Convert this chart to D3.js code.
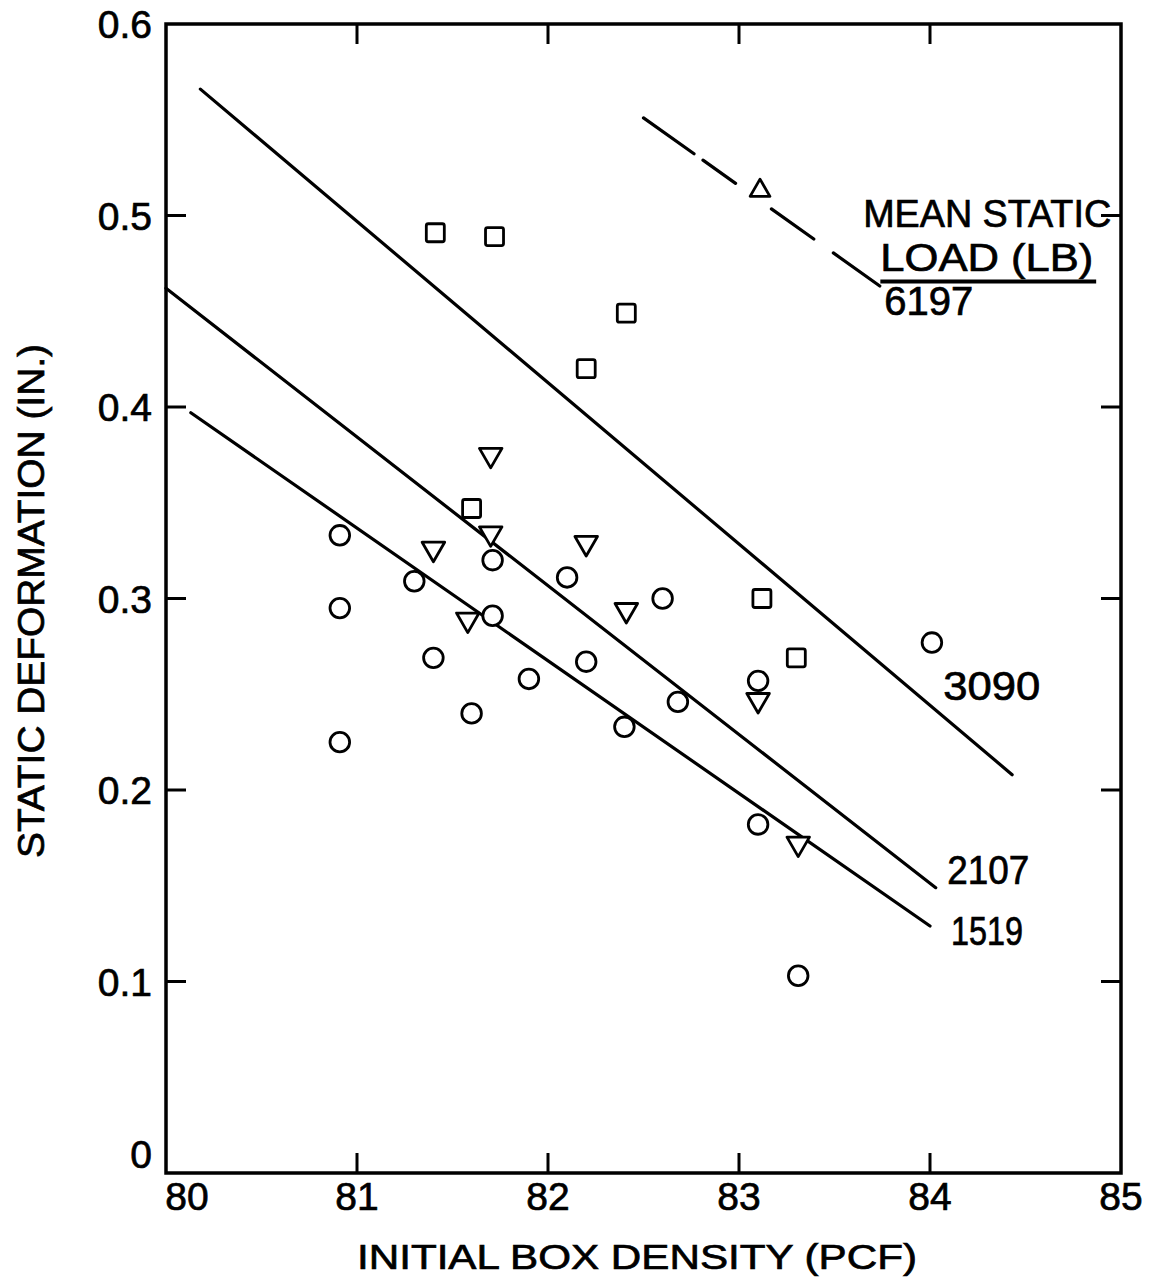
<!DOCTYPE html>
<html lang="en">
<head>
<meta charset="UTF-8" />
<title>Static deformation vs initial box density</title>
<script src="https://d3js.org/d3.v7.min.js"></script>
<style>
  body { margin: 0; background: #fff; }
  svg text { font-family: "Liberation Sans", Arial, sans-serif; fill: #000; stroke: #000; stroke-width: 0.7px; }
</style>
</head>
<body>
<div id="chart"></div>
<script>
  // axis ticks
  const xTicks = [80, 81, 82, 83, 84, 85];
  const yTicks = [0, 0.1, 0.2, 0.3, 0.4, 0.5, 0.6];
  const yTickLabels = ['0', '0.1', '0.2', '0.3', '0.4', '0.5', '0.6'];

  // observed points, grouped by symbol
  const squareX = [81.41, 81.72, 82.41, 82.20, 81.60, 83.12, 83.30];
  const squareY = [0.491, 0.489, 0.449, 0.420, 0.347, 0.300, 0.269];

  const triDownX = [81.70, 81.40, 81.70, 82.20, 82.41, 81.58, 83.10, 83.31];
  const triDownY = [0.375, 0.326, 0.334, 0.329, 0.294, 0.289, 0.247, 0.172];

  const triUpX = [83.11];
  const triUpY = [0.513];

  const circleX = [80.91, 80.91, 80.91, 81.30, 81.40, 81.60, 81.71, 81.71, 81.90,
                   82.10, 82.20, 82.40, 82.60, 82.68, 83.10, 83.10, 83.31, 84.01];
  const circleY = [0.333, 0.295, 0.225, 0.309, 0.269, 0.240, 0.320, 0.291, 0.258,
                   0.311, 0.267, 0.233, 0.300, 0.246, 0.257, 0.182, 0.103, 0.277];

  // fitted lines per mean static load
  const loads  = ['1519', '2107', '3090', '6197'];
  const lineX0 = [80.13, 80.00, 80.18, 82.50];
  const lineY0 = [0.397, 0.462, 0.566, 0.551];
  const lineX1 = [84.00, 84.03, 84.43, 83.74];
  const lineY1 = [0.129, 0.149, 0.208, 0.463];
  const dashed = [false, false, false, true];
  // where each load label sits (data units, baseline-left)
  const labelX = [84.11, 84.09, 84.07, 83.76];
  const labelY = [0.119, 0.151, 0.247, 0.448];

  const W = 1154, H = 1281;
  const margin = {top: 24, right: 33, bottom: 108, left: 166};
  const width = W - margin.left - margin.right;
  const height = H - margin.top - margin.bottom;

  const x = d3.scaleLinear().domain([80, 85]).range([0, width]);
  const y = d3.scaleLinear().domain([0, 0.6]).range([height, 0]);

  const svg = d3.select('#chart').append('svg')
    .attr('width', W).attr('height', H)
    .style('background', '#fff');
  const g = svg.append('g').attr('transform', `translate(${margin.left},${margin.top})`);

  // frame
  g.append('rect').attr('width', width).attr('height', height)
    .attr('fill', 'none').attr('stroke', '#000').attr('stroke-width', 3.5);

  const tickLen = 20;
  const inner = xTicks.slice(1, -1);
  const innerY = yTicks.slice(1, -1);

  // inward ticks, bottom and top
  g.selectAll('.xtb').data(inner).join('line')
    .attr('x1', d => x(d)).attr('x2', d => x(d))
    .attr('y1', height).attr('y2', height - tickLen)
    .attr('stroke', '#000').attr('stroke-width', 3);
  g.selectAll('.xtt').data(inner).join('line')
    .attr('x1', d => x(d)).attr('x2', d => x(d))
    .attr('y1', 0).attr('y2', tickLen)
    .attr('stroke', '#000').attr('stroke-width', 3);
  // inward ticks, left and right
  g.selectAll('.ytl').data(innerY).join('line')
    .attr('x1', 0).attr('x2', tickLen)
    .attr('y1', d => y(d)).attr('y2', d => y(d))
    .attr('stroke', '#000').attr('stroke-width', 3);
  g.selectAll('.ytr').data(innerY).join('line')
    .attr('x1', width).attr('x2', width - tickLen)
    .attr('y1', d => y(d)).attr('y2', d => y(d))
    .attr('stroke', '#000').attr('stroke-width', 3);

  // tick labels
  g.selectAll('.xl').data(xTicks).join('text')
    .attr('x', d => x(d) + (d === 80 ? 21 : 0))
    .attr('y', height + 37)
    .attr('text-anchor', 'middle')
    .attr('font-size', 39)
    .text(d => d);
  g.selectAll('.yl').data(yTicks).join('text')
    .attr('x', -14)
    .attr('y', (d, i) => y(d) + (i === 0 ? -5 : 14))
    .attr('text-anchor', 'end')
    .attr('font-size', 39)
    .text((d, i) => yTickLabels[i]);

  // axis titles
  svg.append('text')
    .attr('x', 637).attr('y', 1269)
    .attr('text-anchor', 'middle')
    .attr('font-size', 35)
    .attr('textLength', 560).attr('lengthAdjust', 'spacingAndGlyphs')
    .text('INITIAL BOX DENSITY (PCF)');
  svg.append('text')
    .attr('transform', 'translate(44,601) rotate(-90)')
    .attr('text-anchor', 'middle')
    .attr('font-size', 36)
    .attr('textLength', 514).attr('lengthAdjust', 'spacingAndGlyphs')
    .text('STATIC DEFORMATION (IN.)');

  // fitted lines
  const lines = loads.map((l, i) => ({load: l, x0: lineX0[i], y0: lineY0[i], x1: lineX1[i], y1: lineY1[i], dashed: dashed[i]}));
  g.selectAll('.fit').data(lines).join('line')
    .attr('x1', d => x(d.x0)).attr('y1', d => y(d.y0))
    .attr('x2', d => x(d.x1)).attr('y2', d => y(d.y1))
    .attr('stroke', '#000').attr('stroke-width', 3.2)
    .attr('stroke-linecap', 'round')
    .attr('stroke-dasharray', d => d.dashed ? '62,11,40,44,52,24,57' : null);

  // load labels
  g.selectAll('.ll').data(loads).join('text')
    .attr('x', (d, i) => x(labelX[i]))
    .attr('y', (d, i) => y(labelY[i]))
    .attr('font-size', 40)
    .attr('textLength', (d, i) => [72, 82, 97, 89][i])
    .attr('lengthAdjust', 'spacingAndGlyphs')
    .text(d => d);

  // legend heading
  g.append('text')
    .attr('x', x(83.65)).attr('y', y(0.494))
    .attr('font-size', 38)
    .attr('textLength', 248).attr('lengthAdjust', 'spacingAndGlyphs')
    .text('MEAN STATIC');
  g.append('text')
    .attr('x', x(83.74)).attr('y', y(0.471))
    .attr('font-size', 38)
    .attr('textLength', 213).attr('lengthAdjust', 'spacingAndGlyphs')
    .text('LOAD (LB)');
  g.append('line')
    .attr('x1', x(83.74)).attr('x2', x(84.87))
    .attr('y1', y(0.4655)).attr('y2', y(0.4655))
    .attr('stroke', '#000').attr('stroke-width', 4);

  const mark = sel => sel.attr('fill', '#fff').attr('stroke', '#000')
    .attr('stroke-width', 2.8).attr('stroke-linejoin', 'round');

  // circles
  g.selectAll('.c').data(circleX.map((v, i) => [v, circleY[i]])).join('circle')
    .attr('cx', d => x(d[0])).attr('cy', d => y(d[1])).attr('r', 9.8)
    .call(mark);

  // squares
  const sq = 18;
  g.selectAll('.s').data(squareX.map((v, i) => [v, squareY[i]])).join('rect')
    .attr('x', d => x(d[0]) - sq / 2).attr('y', d => y(d[1]) - sq / 2)
    .attr('width', sq).attr('height', sq).attr('rx', 2)
    .call(mark);

  // triangles
  const tri = d3.symbol().type(d3.symbolTriangle).size(220);
  g.selectAll('.td').data(triDownX.map((v, i) => [v, triDownY[i]])).join('path')
    .attr('d', tri)
    .attr('transform', d => `translate(${x(d[0])},${y(d[1])}) rotate(180)`)
    .call(mark);
  g.selectAll('.tu').data(triUpX.map((v, i) => [v, triUpY[i]])).join('path')
    .attr('d', d3.symbol().type(d3.symbolTriangle).size(170))
    .attr('transform', d => `translate(${x(d[0])},${y(d[1])})`)
    .call(mark);
</script>
</body>
</html>
